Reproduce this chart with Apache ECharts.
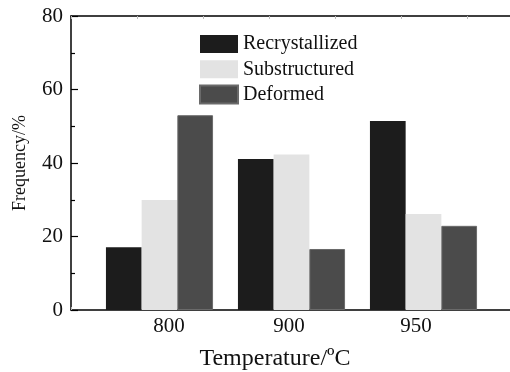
<!DOCTYPE html>
<html><head><meta charset="utf-8">
<script src="https://cdn.jsdelivr.net/npm/echarts@6/dist/echarts.min.js"></script>
<style>html,body{margin:0;padding:0;background:#fff}#c{width:510px;height:372px}</style>
</head><body><div id="c"></div>
<script>
var categories = ['800', '900', '950'];
var seriesNames = ['Recrystallized', 'Substructured', 'Deformed'];
var recrystallized = [17.1, 41.1, 51.4];
var substructured = [29.9, 42.3, 26.1];
var deformed = [53.0, 16.6, 22.9];
var yTicks = [0, 20, 40, 60, 80];

var colors = ['#1c1c1c', '#e3e3e3', '#4b4b4b'];
var labelShiftPx = [9.5, -2.5, -7.5];
var bandPx = 132;
var pos = categories.map(function (c, i) { return i + 1; });
var pad = 88.5 / bandPx;
var xmin = 1 - pad, xmax = categories.length + pad;
var font = 'Liberation Serif, Times New Roman, serif';
function pairs(arr) { return arr.map(function (v, i) { return [pos[i], v]; }); }
var labelPos = pos.map(function (p, i) { return p + labelShiftPx[i] / bandPx; });
var halfTicks = [];
for (var k = 0; xmin + 0.5 * k <= xmax; k++) halfTicks.push(xmin + 0.5 * k);

var chart = echarts.init(document.getElementById('c'), null, {renderer: 'canvas'});
var vals = [recrystallized, substructured, deformed];
chart.setOption({
  animation: false,
  backgroundColor: '#fff',
  grid: {left: 71, top: 16, width: 441, height: 294, containLabel: false, outerBoundsMode: 'none'},
  legend: {
    orient: 'vertical', left: 199, top: 34, itemWidth: 38, itemHeight: 18, itemGap: 5.3,
    padding: 0, icon: 'rect', data: seriesNames,
    textStyle: {fontFamily: font, fontSize: 20, lineHeight: 18, color: '#111'}
  },
  xAxis: [{
    type: 'value', min: xmin, max: xmax, position: 'bottom',
    axisLine: {lineStyle: {color: '#000', width: 1.5}},
    axisTick: {show: true, inside: true, length: 3, lineStyle: {color: '#bbb'}, customValues: halfTicks},
    axisLabel: {customValues: labelPos, formatter: function (v) { return categories[Math.round(v) - 1]; },
      fontFamily: font, fontSize: 21, color: '#111', margin: 6},
    splitLine: {show: false},
    name: 'Temperature/\u00baC', nameLocation: 'middle', nameGap: 37,
    nameTextStyle: {fontFamily: font, fontSize: 24, color: '#111', padding: [0, 33, 0, 0]}
  }, {
    type: 'value', min: xmin, max: xmax, position: 'top',
    axisLine: {show: true, lineStyle: {color: '#000', width: 1.5}},
    axisTick: {show: true, inside: true, length: 3, lineStyle: {color: '#bbb'}, customValues: halfTicks},
    axisLabel: {show: false}, splitLine: {show: false}
  }],
  yAxis: {
    type: 'value', min: yTicks[0], max: yTicks[yTicks.length - 1], interval: 20,
    axisLine: {show: true, lineStyle: {color: '#000', width: 1.5}},
    axisTick: {show: true, inside: true, length: 7, lineStyle: {color: '#000', width: 1.2}},
    minorTick: {show: true, splitNumber: 2, length: 4, lineStyle: {color: '#000', width: 1.2}},
    axisLabel: {fontFamily: font, fontSize: 21, color: '#111', margin: 8},
    splitLine: {show: false},
    name: 'Frequency/%', nameLocation: 'middle', nameGap: 42,
    nameTextStyle: {fontFamily: font, fontSize: 18, color: '#111'}
  },
  series: seriesNames.map(function (n, i) {
    return {
      name: n, type: 'bar', barWidth: 35.7, barGap: '0%', data: pairs(vals[i]),
      itemStyle: {color: colors[i], borderColor: i === 2 ? '#6a6a6a' : colors[i], borderWidth: i === 2 ? 1 : 0}
    };
  })
});
</script></body></html>
